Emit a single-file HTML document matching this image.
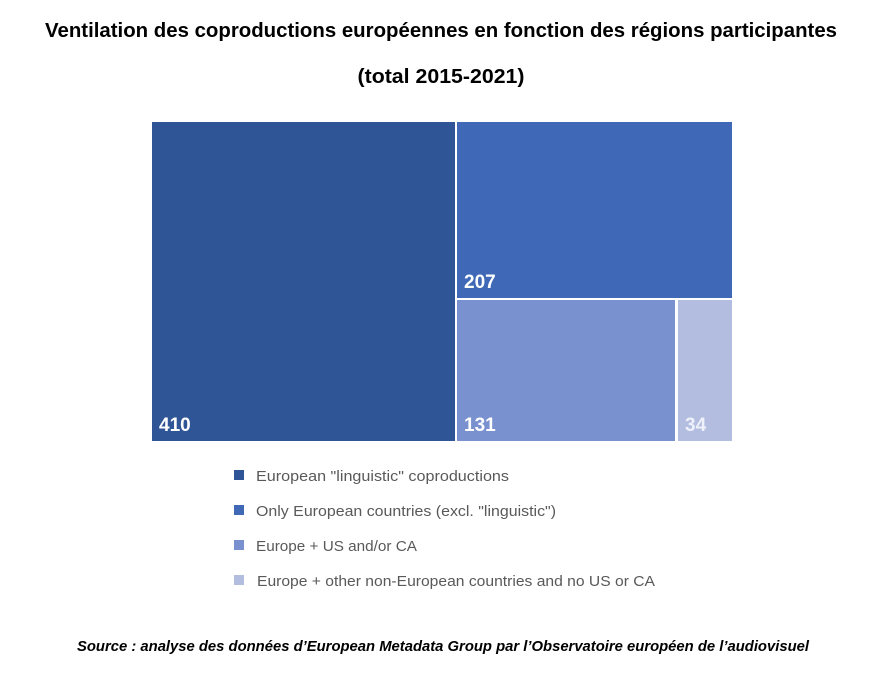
<!DOCTYPE html>
<html>
<head>
<meta charset="utf-8">
<style>
html,body{margin:0;padding:0;background:#fff;}
svg{display:block;}
</style>
</head>
<body>
<svg width="881" height="673" viewBox="0 0 881 673" xmlns="http://www.w3.org/2000/svg">
<rect width="881" height="673" fill="#fff"/>
<text x="441" y="37" text-anchor="middle" font-family="Liberation Sans, sans-serif" font-weight="bold" font-size="20" fill="#000" textLength="792" lengthAdjust="spacingAndGlyphs">Ventilation des coproductions européennes en fonction des régions participantes</text>
<text x="441" y="83" text-anchor="middle" font-family="Liberation Sans, sans-serif" font-weight="bold" font-size="20" fill="#000" textLength="167" lengthAdjust="spacingAndGlyphs">(total 2015-2021)</text>

<rect x="152" y="122" width="303" height="319" fill="#2f5597"/>
<rect x="457" y="122" width="275" height="176" fill="#3f69b7"/>
<rect x="457" y="300" width="218" height="141" fill="#7a91cf"/>
<rect x="678" y="300" width="54" height="141" fill="#b2bde0"/>

<g font-family="Liberation Sans, sans-serif" font-weight="bold" font-size="19" fill="#fff">
<text x="159" y="431">410</text>
<text x="464" y="288">207</text>
<text x="464" y="431">131</text>
<text x="685" y="431" fill="#eef1fa">34</text>
</g>

<rect x="234" y="470" width="10" height="10" fill="#2f5597"/>
<rect x="234" y="505" width="10" height="10" fill="#3f69b7"/>
<rect x="234" y="540" width="10" height="10" fill="#7a91cf"/>
<rect x="234" y="575" width="10" height="10" fill="#b2bde0"/>
<g font-family="Liberation Sans, sans-serif" font-size="15" fill="#595959">
<text x="256" y="481" textLength="253" lengthAdjust="spacingAndGlyphs">European "linguistic" coproductions</text>
<text x="256" y="516" textLength="300" lengthAdjust="spacingAndGlyphs">Only European countries (excl. "linguistic")</text>
<text x="256" y="551" textLength="161" lengthAdjust="spacingAndGlyphs">Europe + US and/or CA</text>
<text x="257" y="586" textLength="398" lengthAdjust="spacingAndGlyphs">Europe + other non-European countries and no US or CA</text>
</g>

<text x="443" y="651" text-anchor="middle" font-family="Liberation Sans, sans-serif" font-weight="bold" font-style="italic" font-size="14.5" fill="#000" textLength="732" lengthAdjust="spacingAndGlyphs">Source : analyse des données d’European Metadata Group par l’Observatoire européen de l’audiovisuel</text>
</svg>
</body>
</html>
